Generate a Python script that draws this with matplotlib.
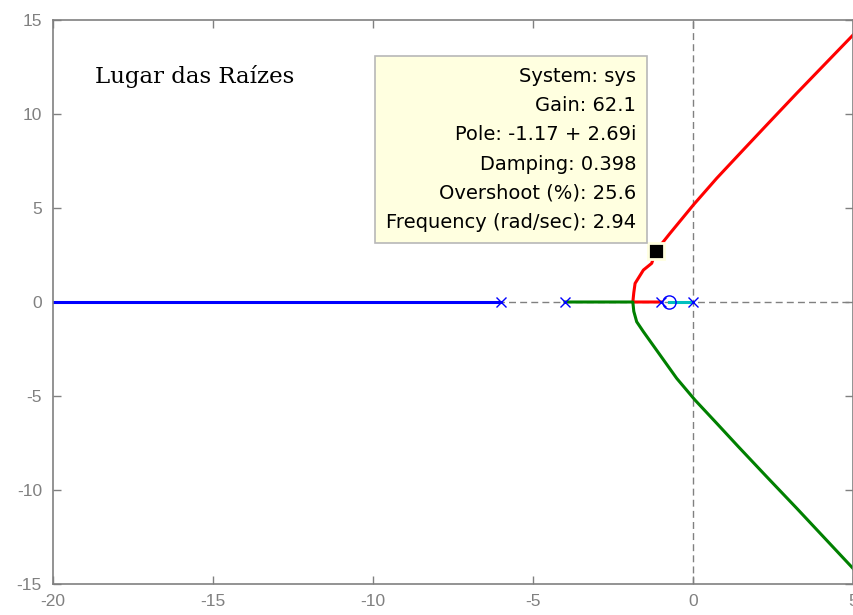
import matplotlib
matplotlib.use("Agg")
import matplotlib.pyplot as plt

plt.rcParams["axes.unicode_minus"] = False

# polos e zero do sistema
polos = [0, -1, -4, -6]
zeros = [-0.75]

# ramos do lugar das raizes (lidos ponto a ponto)
ramo_azul_x = [-6, -20]
ramo_azul_y = [0, 0]
ramo_ciano_x = [0, -0.75]
ramo_ciano_y = [0, 0]
ramo_verm_x = [-1, -1.88, -1.85, -1.81, -1.55, -1.29, -1.17, -0.72, 0.01, 0.74, 1.57, 2.30, 3.24, 5.0]
ramo_verm_y = [0, 0, 0.5, 0.99, 1.70, 2.06, 2.69, 3.65, 5.16, 6.58, 8.09, 9.41, 11.1, 14.2]
ramo_verde_x = [-4, -1.88, -1.85, -1.76, -1.55, -1.03, -0.51, 0.06, 0.74, 1.42, 2.30, 3.24, 5.0]
ramo_verde_y = [0, 0, -0.5, -1.05, -1.58, -2.82, -4.06, -5.21, -6.45, -7.70, -9.29, -10.97, -14.17]

# ponto marcado (datatip)
ganho = 62.1
polo_sel = (-1.17, 2.69)
amortecimento = 0.398
sobressinal = 25.6
frequencia = 2.94

xticks = [-20, -15, -10, -5, 0, 5]
yticks = [-15, -10, -5, 0, 5, 10, 15]

cinza = "#808080"

fig = plt.figure(figsize=(8.54, 6.15), dpi=100)
ax = fig.add_axes([53 / 854, 1 - 584 / 615, 800 / 854, 564 / 615])

# eixos tracejados
ax.axhline(0, color=cinza, lw=1, ls=(0, (5, 3)), zorder=1)
ax.axvline(0, color=cinza, lw=1, ls=(0, (5, 3)), zorder=1)

ax.plot(ramo_azul_x, ramo_azul_y, color="#0000ff", lw=2.2, zorder=2)
ax.plot(ramo_ciano_x, ramo_ciano_y, color="#00bfbf", lw=2.2, zorder=2)
ax.plot(ramo_verm_x, ramo_verm_y, color="#ff0000", lw=2.2, zorder=2)
ax.plot(ramo_verde_x, ramo_verde_y, color="#008000", lw=2.2, zorder=2)

ax.plot(polos, [0] * len(polos), ls="none", marker="x", ms=7, mew=1,
        color="#0000ff", zorder=3)
ax.plot(zeros, [0] * len(zeros), ls="none", marker="o", ms=9.5, mew=1,
        mfc="none", mec="#0000ff", zorder=3)

ax.plot(*polo_sel, marker="s", ms=11, color="black", mec="#ffffe0",
        mew=2, zorder=5)

texto = ("System: sys\n"
         f"Gain: {ganho}\n"
         f"Pole: {polo_sel[0]} + {polo_sel[1]}i\n"
         f"Damping: {amortecimento}\n"
         f"Overshoot (%): {sobressinal}\n"
         f"Frequency (rad/sec): {frequencia}")
ax.annotate(texto, xy=polo_sel, xytext=(-14, 14), textcoords="offset points",
            ha="right", va="bottom", fontsize=14, family="DejaVu Sans",
            linespacing=1.68, zorder=6,
            bbox=dict(boxstyle="square,pad=0.55", fc="#ffffe0", ec="#b8b8b8", lw=1.2))

ax.text(-18.7, 12.0, "Lugar das Raízes", family="DejaVu Serif", fontsize=16.5,
        va="center", ha="left")

ax.set_xlim(-20, 5)
ax.set_ylim(-15, 15)
ax.set_xticks(xticks)
ax.set_yticks(yticks)
ax.tick_params(direction="in", length=6, width=1, color=cinza, labelcolor=cinza,
               labelsize=12.5, top=True, right=True)
ax.tick_params(axis="x", pad=7)
ax.tick_params(axis="y", pad=8)
for lab in ax.get_xticklabels() + ax.get_yticklabels():
    lab.set_family("Liberation Sans")
for s in ax.spines.values():
    s.set_color(cinza)
    s.set_linewidth(1.2)

fig.savefig("out.png", dpi=100)
